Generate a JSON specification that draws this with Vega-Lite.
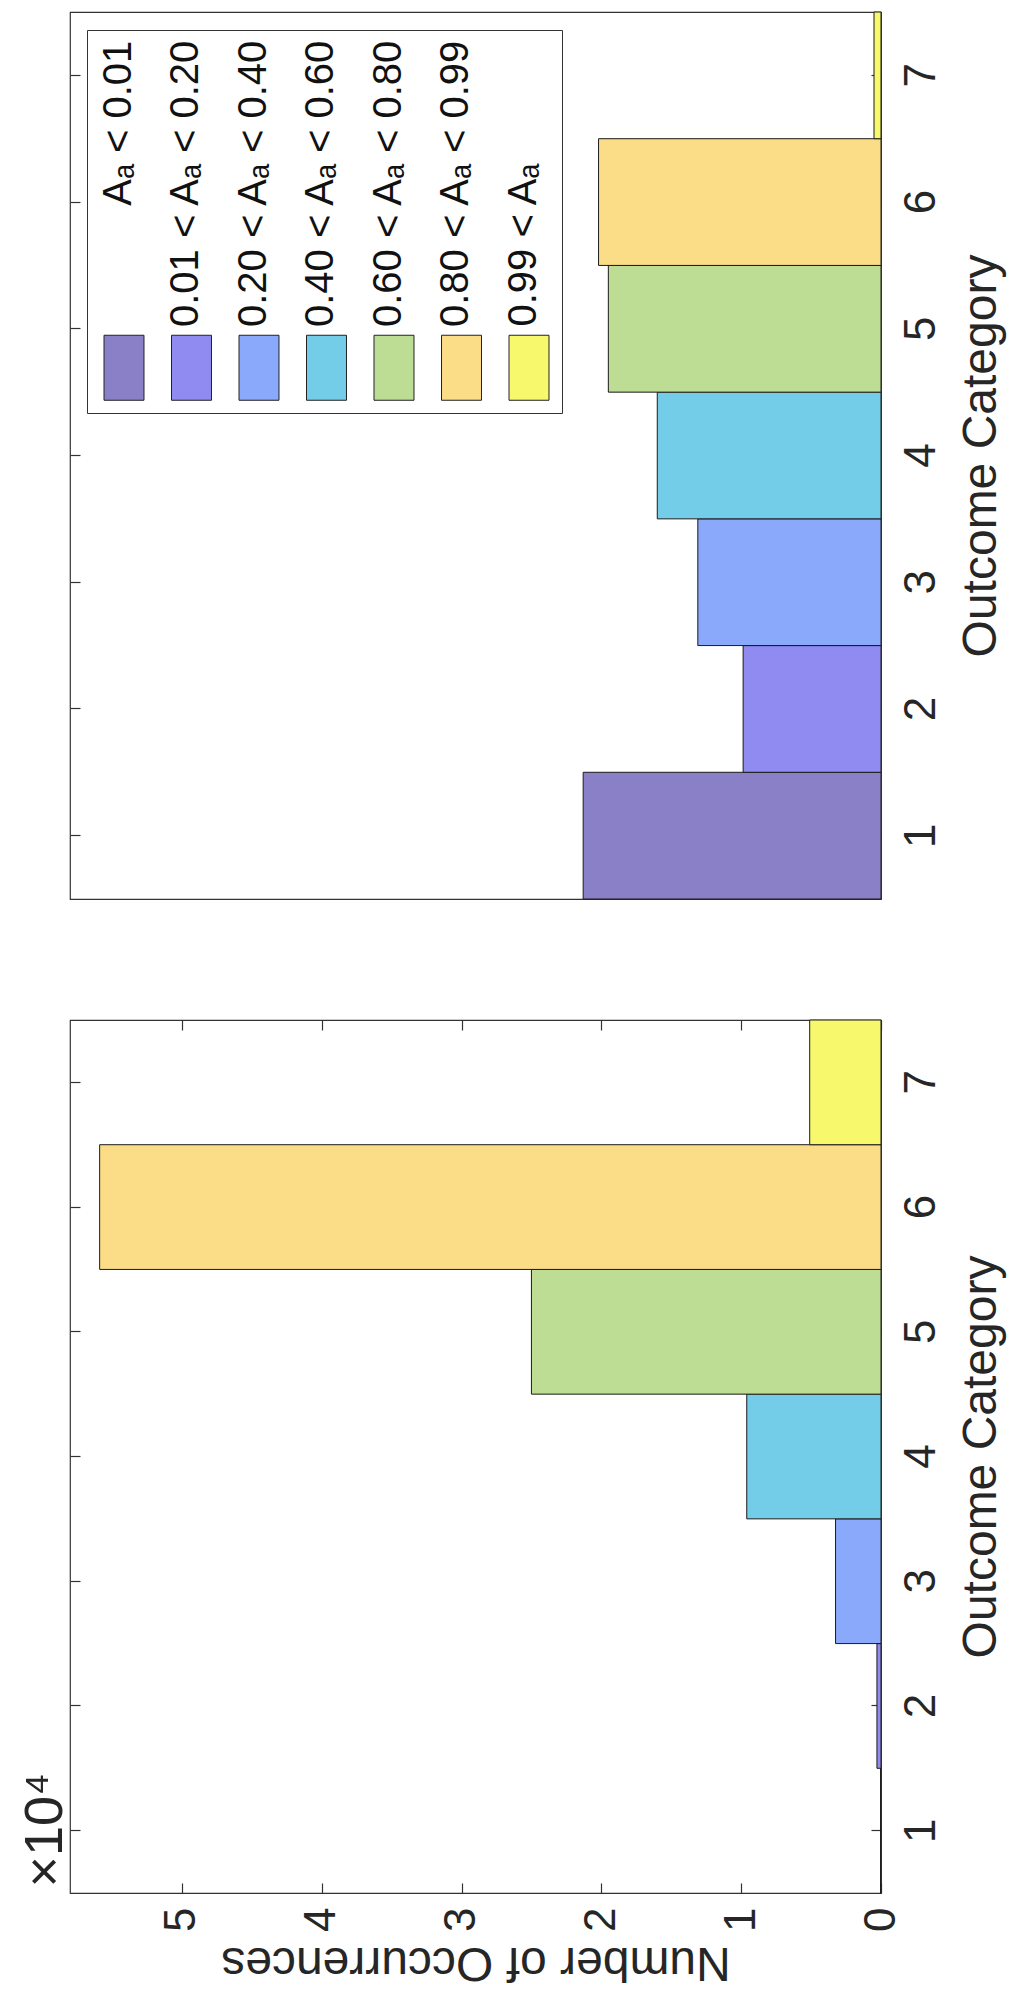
{
  "$schema": "https://vega.github.io/schema/vega-lite/v6.json",
  "background": "white",
  "padding": {"left": 17, "top": 10, "right": 5, "bottom": 5},
  "spacing": 121,
  "bounds": "flush",
  "datasets": {
    "upper": [
      {"cat": 1, "range": "A\u2090 < 0.01", "count": 21300},
      {"cat": 2, "range": "0.01 < A\u2090 < 0.20", "count": 9860},
      {"cat": 3, "range": "0.20 < A\u2090 < 0.40", "count": 13100},
      {"cat": 4, "range": "0.40 < A\u2090 < 0.60", "count": 16000},
      {"cat": 5, "range": "0.60 < A\u2090 < 0.80", "count": 19500},
      {"cat": 6, "range": "0.80 < A\u2090 < 0.99", "count": 20200},
      {"cat": 7, "range": "0.99 < A\u2090", "count": 500}
    ],
    "lower": [
      {"cat": 1, "range": "A\u2090 < 0.01", "count": 30},
      {"cat": 2, "range": "0.01 < A\u2090 < 0.20", "count": 290},
      {"cat": 3, "range": "0.20 < A\u2090 < 0.40", "count": 3250},
      {"cat": 4, "range": "0.40 < A\u2090 < 0.60", "count": 9600},
      {"cat": 5, "range": "0.60 < A\u2090 < 0.80", "count": 25000},
      {"cat": 6, "range": "0.80 < A\u2090 < 0.99", "count": 55880},
      {"cat": 7, "range": "0.99 < A\u2090", "count": 5100}
    ]
  },
  "config": {
    "font": "Liberation Sans",
    "view": {"stroke": "#333333", "strokeWidth": 1.2},
    "axis": {
      "domain": false,
      "grid": false,
      "tickColor": "#333333",
      "tickWidth": 1.2,
      "tickSize": -10,
      "labelFont": "Liberation Sans",
      "labelFontSize": 44,
      "labelColor": "#262626",
      "titleFont": "Liberation Sans",
      "titleFontSize": 48,
      "titleColor": "#262626",
      "titleFontWeight": "normal",
      "labelOverlap": false,
      "labelFlush": false
    },
    "legend": {"labelFont": "Liberation Sans"}
  },
  "vconcat": [
    {
      "width": 811,
      "height": 887,
      "data": {"name": "upper"},
      "layer": [
        {
          "mark": {"type": "bar", "stroke": "#1a1a1a", "strokeWidth": 1},
          "encoding": {
            "y": {
              "field": "cat", "type": "ordinal", "sort": "descending",
              "scale": {"paddingInner": 0, "paddingOuter": 0},
              "axis": {
                "orient": "right", "title": "Outcome Category",
                "labelAngle": -90, "labelAlign": "center", "labelBaseline": "alphabetic", "labelPadding": 63,
                "titleAngle": -90, "titleAlign": "center", "titleBaseline": "alphabetic", "titleX": 114, "titleY": 443.5
              }
            },
            "x": {
              "field": "count", "type": "quantitative",
              "scale": {"domain": [0, 58000], "reverse": true, "nice": false},
              "axis": null
            },
            "color": {
              "field": "range", "type": "nominal",
              "scale": {
                "domain": ["A\u2090 < 0.01", "0.01 < A\u2090 < 0.20", "0.20 < A\u2090 < 0.40", "0.40 < A\u2090 < 0.60", "0.60 < A\u2090 < 0.80", "0.80 < A\u2090 < 0.99", "0.99 < A\u2090"],
                "range": ["#8A80C8", "#8F8BF0", "#8AA9FA", "#73CDE8", "#BCDD93", "#FCDD87", "#F8F86D"]
              },
              "legend": {
                "orient": "none", "legendX": 17, "legendY": 18,
                "direction": "horizontal", "columns": 7,
                "title": null,
                "symbolType": "M-0.615,-1L0.615,-1L0.615,1L-0.615,1Z",
                "symbolSize": 4225,
                "symbolStrokeColor": "#222222", "symbolStrokeWidth": 1, "symbolOpacity": 1,
                "labelFontSize": 40, "labelColor": "#111111", "labelLimit": 0,
                "columnPadding": 18.5, "rowPadding": 0,
                "padding": 10.5,
                "strokeColor": "#333333", "fillColor": "white",
                "encoding": {
                  "symbols": {
                    "x": {"value": 26.5},
                    "y": {"value": 327}
                  },
                  "labels": {
                    "angle": {"value": -90},
                    "align": {"value": "right"},
                    "baseline": {"value": "alphabetic"},
                    "fontSize": {"value": 40},
                    "x": {"value": 33.1},
                    "y": {"condition": {"test": "datum.index == 6", "value": 123}, "value": 0}
                  }
                }
              }
            }
          }
        },
        {
          "mark": {"type": "bar", "opacity": 0},
          "encoding": {
            "y": {"field": "cat", "type": "ordinal", "sort": "descending", "axis": {"orient": "left", "labels": false, "title": null}},
            "x": {"field": "count", "type": "quantitative", "axis": null}
          }
        }
      ],
      "resolve": {"axis": {"y": "independent"}}
    },
    {
      "width": 811,
      "height": 873,
      "data": {"name": "lower"},
      "layer": [
        {
          "mark": {"type": "bar", "stroke": "#1a1a1a", "strokeWidth": 1},
          "encoding": {
            "y": {
              "field": "cat", "type": "ordinal", "sort": "descending",
              "scale": {"paddingInner": 0, "paddingOuter": 0},
              "axis": {
                "orient": "right", "title": "Outcome Category",
                "labelAngle": -90, "labelAlign": "center", "labelBaseline": "alphabetic", "labelPadding": 63,
                "titleAngle": -90, "titleAlign": "center", "titleBaseline": "alphabetic", "titleX": 114, "titleY": 436.5
              }
            },
            "x": {
              "field": "count", "type": "quantitative",
              "scale": {"domain": [0, 58000], "reverse": true, "nice": false},
              "axis": {
                "orient": "bottom", "title": "Number of Occurrences",
                "values": [0, 10000, 20000, 30000, 40000, 50000],
                "labelExpr": "format(datum.value / 10000, 'd')",
                "labelAngle": -90, "labelAlign": "right", "labelBaseline": "middle", "labelPadding": 24,
                "titleAngle": 180, "titleAlign": "center", "titleBaseline": "alphabetic", "titleX": 405.5, "titleY": 54
              }
            },
            "color": {
              "field": "range", "type": "nominal",
              "scale": {
                "domain": ["A\u2090 < 0.01", "0.01 < A\u2090 < 0.20", "0.20 < A\u2090 < 0.40", "0.40 < A\u2090 < 0.60", "0.60 < A\u2090 < 0.80", "0.80 < A\u2090 < 0.99", "0.99 < A\u2090"],
                "range": ["#8A80C8", "#8F8BF0", "#8AA9FA", "#73CDE8", "#BCDD93", "#FCDD87", "#F8F86D"]
              },
              "legend": null
            }
          }
        },
        {
          "mark": {"type": "bar", "opacity": 0},
          "encoding": {
            "y": {
              "field": "cat", "type": "ordinal", "sort": "descending",
              "axis": {
                "orient": "left", "labels": false, "title": "\u00d710\u2074",
                "titleFontSize": 54, "titleAngle": -90, "titleAlign": "left", "titleBaseline": "alphabetic",
                "titleX": -9, "titleY": 867
              }
            },
            "x": {
              "field": "count", "type": "quantitative",
              "axis": {"orient": "top", "labels": false, "title": null, "values": [0, 10000, 20000, 30000, 40000, 50000]}
            }
          }
        }
      ],
      "resolve": {"axis": {"x": "independent", "y": "independent"}}
    }
  ],
  "resolve": {"legend": {"color": "independent"}}
}
